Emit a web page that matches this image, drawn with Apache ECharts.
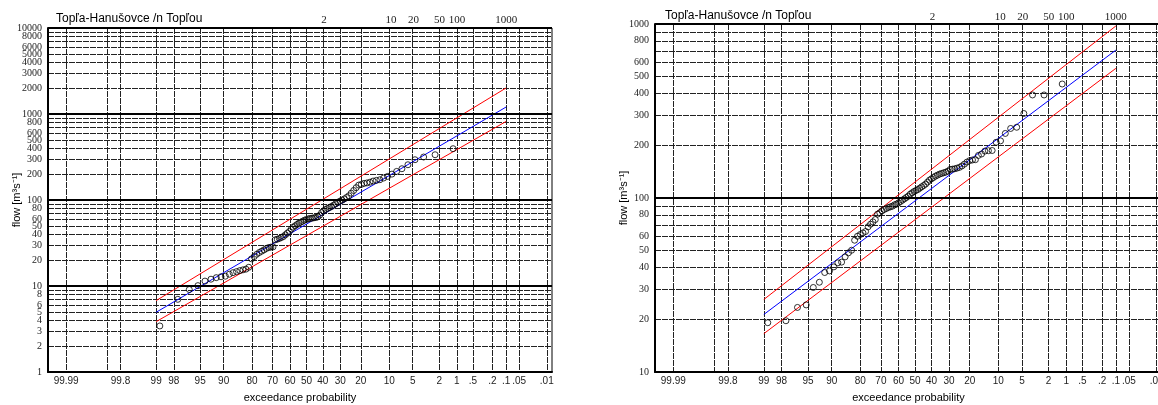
<!DOCTYPE html>
<html><head><meta charset="utf-8">
<script src="https://cdn.jsdelivr.net/npm/echarts@6/dist/echarts.min.js"></script>
<style>html,body{margin:0;padding:0;background:#fff}#c{width:1158px;height:405px}</style>
</head><body><div id="c"></div>
<script>
// ---------- data ----------
const TITLE = 'Topľa-Hanušovce /n Topľou';
// exceedance probabilities (%) with grid lines, and their labels
const gridProbs = [99.99, 99.9, 99.8, 99, 98, 95, 90, 80, 70, 60, 50, 40, 30, 20, 10, 5, 2, 1, 0.5, 0.2, 0.1, 0.05, 0.01];
const labelProbs = [99.99, 99.8, 99, 98, 95, 90, 80, 70, 60, 50, 40, 30, 20, 10, 5, 2, 1, 0.5, 0.2, 0.1, 0.05, 0.01];
const labelTexts = ['99.99', '99.8', '99', '98', '95', '90', '80', '70', '60', '50', '40', '30', '20', '10', '5', '2', '1', '.5', '.2', '.1', '.05', '.01'];
// return periods shown on top
const returnPeriods = [2, 10, 20, 50, 100, 500, 1000];

// left panel flow ticks
const leftGridFlows = [1,2,3,4,5,6,7,8,9,10,20,30,40,50,60,70,80,90,100,200,300,400,500,600,700,800,900,1000,2000,3000,4000,5000,6000,7000,8000,9000,10000];
const leftLabelFlows = [1,2,3,4,5,6,8,10,20,30,40,50,60,80,100,200,300,400,500,600,800,1000,2000,3000,4000,5000,6000,8000];
const leftTopLabel = [10000];
const leftDecades = [10, 100, 1000, 10000];
// right panel flow ticks
const rightGridFlows = [10,20,30,40,50,60,70,80,90,100,200,300,400,500,600,700,800,900,1000];
const rightLabelFlows = [10,20,30,40,50,60,80,100,200,300,400,500,600,800,1000];
const rightDecades = [100, 1000];

// observed flows, sorted ascending (m3/s)
const leftFlows = [3.43,7.0,9.1,10.1,11.4,12.0,12.5,12.8,13.0,13.7,14.3,14.7,15.1,15.4,15.7,16.5,20.7,22.0,23.4,24.5,
  25.4,26.3,27.3,28.0,28.3,28.5,34.4,35.0,35.7,36.6,37.6,39.4,41.2,43.0,45.8,48.3,50.1,51.9,53.8,55.2,
  56.7,58.3,59.3,60.4,61.0,61.5,62.1,62.6,63.7,66.6,71.6,74.8,77.6,79.7,81.8,84.1,87.1,90.3,93.6,97.0,
  99.6,103,107,112,120,129,139,149,152,156,158,161,166,169,172,180,188,200,215,231,257,294,316,336,395];
const rightFlows = [19.2,19.7,23.5,24.3,30.6,32.8,37.3,38.1,40.2,42.4,42.8,45.9,48.4,50.1,57.2,60.3,61.7,63.0,64.2,68.3,
  70.7,72.9,75.2,80.8,82.2,84.4,85.9,87.0,88.2,89.0,89.8,91.4,92.2,93.8,95.5,97.2,98.9,100.7,102.5,105.2,
  107.1,109.0,110.5,111.9,113.9,116.0,118.0,120.2,123.4,126.7,128.9,131.2,133.6,135.3,137.1,138.4,139.6,140.8,142.7,145.9,
  146.5,147.2,148.5,150,152.8,156.6,160.9,164,165.4,166,175.6,179,186,187,187.5,209,213,235,251,255,306,391,391,452];

// fitted lognormal quantile line and confidence limits (at 99 % and 0.1 % exceedance)
const fitProbs = [99, 0.1];
const leftFit = [4.95, 1206];
const leftUpper = [6.76, 2009];
const leftLower = [3.85, 820];
const rightFit = [21.4, 708];
const rightUpper = [26.1, 974];
const rightLower = [16.6, 556];

// ---------- normal probability scale ----------
function probit(p){
  const a=[-3.969683028665376e+01,2.209460984245205e+02,-2.759285104469687e+02,1.383577518672690e+02,-3.066479806614716e+01,2.506628277459239e+00];
  const b=[-5.447609879822406e+01,1.615858368580409e+02,-1.556989798598866e+02,6.680131188771972e+01,-1.328068155288572e+01];
  const c=[-7.784894002430293e-03,-3.223964580411365e-01,-2.400758277161838e+00,-2.549671348254400e+00,4.374664141464968e+00,2.938163982698783e+00];
  const d=[7.784695709041462e-03,3.224671290700398e-01,2.445134137142996e+00,3.754408661907416e+00];
  const pl=0.02425, ph=1-pl; let q,r;
  if(p<pl){q=Math.sqrt(-2*Math.log(p));return (((((c[0]*q+c[1])*q+c[2])*q+c[3])*q+c[4])*q+c[5])/((((d[0]*q+d[1])*q+d[2])*q+d[3])*q+1);}
  if(p<=ph){q=p-0.5;r=q*q;return (((((a[0]*r+a[1])*r+a[2])*r+a[3])*r+a[4])*r+a[5])*q/(((((b[0]*r+b[1])*r+b[2])*r+b[3])*r+b[4])*r+1);}
  q=Math.sqrt(-2*Math.log(1-p));return -(((((c[0]*q+c[1])*q+c[2])*q+c[3])*q+c[4])*q+c[5])/((((d[0]*q+d[1])*q+d[2])*q+d[3])*q+1);
}
const zOfExc = pct => probit(1 - pct/100);          // exceedance % -> axis coordinate
const zOfT = T => probit(Math.exp(-1/T));           // return period -> axis coordinate
const gridZ = gridProbs.map(zOfExc);
const labelZ = labelProbs.map(zOfExc);
const topZ = returnPeriods.map(zOfT);
function lookup(zs, texts){
  return v => { for (let i=0;i<zs.length;i++) if (Math.abs(zs[i]-v) < 1e-6) return texts[i]; return ''; };
}
function plotPoints(flows){
  const n = flows.length;
  return flows.map((f,i) => [probit((i+1)/(n+1)), f]);
}
function linePts(vals){ return fitProbs.map((p,i) => [zOfExc(p), vals[i]]); }

const ZMIN = -4, ZMAX = 3.8;
const gridLine = {show:true, lineStyle:{color:'#222', width:1, type:[6,1]}};
const sans = 'Liberation Sans', serif = 'Liberation Serif';

function bottomX(gi){
  return {
    type:'value', gridIndex:gi, min:ZMIN, max:ZMAX, position:'bottom',
    name:'exceedance probability', nameLocation:'middle', nameGap:20, nameMoveOverlap:false,
    nameTextStyle:{fontFamily:sans, fontSize:11, color:'#000'},
    axisLine:{show:true, onZero:false, lineStyle:{color:'#000', width:2}},
    axisTick:{show:false, customValues:gridZ},
    splitLine:gridLine,
    axisLabel:{customValues:labelZ, formatter:lookup(labelZ, labelTexts), margin:4,
      fontFamily:sans, fontSize:10, color:'#222', hideOverlap:false, showMinLabel:true, showMaxLabel:true}
  };
}
function topX(gi, margin){
  return {
    type:'value', gridIndex:gi, min:ZMIN, max:ZMAX, position:'top',
    axisLine:{show:false, onZero:false}, axisTick:{show:false, customValues:topZ}, splitLine:{show:false},
    axisLabel:{customValues:topZ, formatter:lookup(topZ, returnPeriods.map(String)), margin:margin,
      fontFamily:serif, fontSize:11, color:'#222', hideOverlap:false, showMinLabel:true, showMaxLabel:true}
  };
}
const yLabelStyle = {formatter:v => String(Math.round(v)), margin:6,
  fontFamily:serif, fontSize:10, color:'#222', hideOverlap:false, showMinLabel:true, showMaxLabel:true};
function yAx(gi, min, max, gridVals, labelVals, gap){
  return {
    type:'log', logBase:10, gridIndex:gi, min:min, max:max,
    name:'flow [m³s⁻¹]', nameLocation:'middle', nameGap:gap, nameRotate:90, nameMoveOverlap:false,
    nameTextStyle:{fontFamily:sans, fontSize:11, color:'#000'},
    axisLine:{show:true, onZero:false, lineStyle:{color:'#000', width:2}},
    axisTick:{show:false, customValues:gridVals},
    splitLine:gridLine, minorSplitLine:{show:false},
    axisLabel:Object.assign({customValues:labelVals}, yLabelStyle)
  };
}
// extra label-only axis for the top flow label (so it is not culled next to its neighbour)
function yLabelOnly(gi, min, max, labelVals){
  return {
    type:'log', logBase:10, gridIndex:gi, min:min, max:max, position:'left',
    axisLine:{show:false, onZero:false}, axisTick:{show:false, customValues:labelVals},
    splitLine:{show:false}, minorSplitLine:{show:false},
    axisLabel:Object.assign({customValues:labelVals}, yLabelStyle)
  };
}
function panelSeries(xi, yi, flows, fit, up, lo, decades){
  return [
    {type:'line', xAxisIndex:xi, yAxisIndex:yi, data:linePts(up), symbol:'none', silent:true,
      lineStyle:{color:'#ff0000', width:1}, z:3,
      markLine:{silent:true, symbol:'none', label:{show:false},
        lineStyle:{color:'#000', width:2, type:'solid'}, data:decades.map(v=>({yAxis:v}))}},
    {type:'line', xAxisIndex:xi, yAxisIndex:yi, data:linePts(fit), symbol:'none', silent:true,
      lineStyle:{color:'#0000ff', width:1}, z:3},
    {type:'line', xAxisIndex:xi, yAxisIndex:yi, data:linePts(lo), symbol:'none', silent:true,
      lineStyle:{color:'#ff0000', width:1}, z:3},
    {type:'scatter', xAxisIndex:xi, yAxisIndex:yi, data:plotPoints(flows), symbol:'circle', symbolSize:6,
      itemStyle:{color:'rgba(255,255,255,0)', borderColor:'#000', borderWidth:1}, z:4}
  ];
}

const chart = echarts.init(document.getElementById('c'), null, {renderer:'canvas'});
chart.setOption({
  animation:false,
  backgroundColor:'#fff',
  title:[
    {text:TITLE, left:51, top:8, textStyle:{fontFamily:sans, fontSize:12, fontWeight:'normal', color:'#000'}},
    {text:TITLE, left:660, top:5, textStyle:{fontFamily:sans, fontSize:12, fontWeight:'normal', color:'#000'}}
  ],
  grid:[
    {left:48, top:28, width:504, height:344, show:true, borderColor:'#000', borderWidth:1, backgroundColor:'transparent', containLabel:false, outerBoundsMode:'none'},
    {left:655, top:24, width:507, height:348, show:true, borderColor:'#000', borderWidth:1, backgroundColor:'transparent', containLabel:false, outerBoundsMode:'none'}
  ],
  xAxis:[bottomX(0), topX(0, 2), bottomX(1), topX(1, 1)],
  yAxis:[
    yAx(0, 1, 10000, leftGridFlows, leftLabelFlows, 26),
    yAx(1, 10, 1000, rightGridFlows, rightLabelFlows, 26),
    yLabelOnly(0, 1, 10000, leftTopLabel)
  ],
  series:[
    ...panelSeries(0, 0, leftFlows, leftFit, leftUpper, leftLower, leftDecades),
    ...panelSeries(2, 1, rightFlows, rightFit, rightUpper, rightLower, rightDecades)
  ]
});
</script></body></html>
